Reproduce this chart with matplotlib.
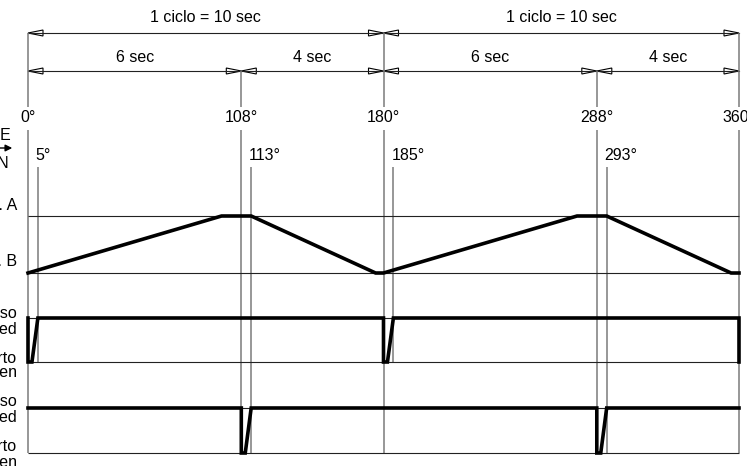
import matplotlib.pyplot as plt
from matplotlib.patches import Polygon

plt.rcParams["font.family"] = ["Liberation Sans", "DejaVu Sans"]

# angles of the cycle (degrees) and the short valve delays
main_angles = [0, 108, 180, 288, 360]
delay_angles = [5, 113, 185, 293]
cycle_label = "1 ciclo = 10 sec"
phase_labels = ["6 sec", "4 sec", "6 sec", "4 sec"]

# slide position (1 = pos. A, 0 = pos. B)
pos_deg = [0, 98, 113, 176, 180, 278, 293, 356, 360]
pos_state = [0, 1, 1, 0, 0, 1, 1, 0, 0]

# valve 1 (1 = chiuso / closed, 0 = aperto / open)
v1_deg = [0, 0, 2, 5, 180, 180, 182, 185, 360, 360]
v1_state = [1, 0, 0, 1, 1, 0, 0, 1, 1, 0]

# valve 2
v2_deg = [0, 108, 108, 110, 113, 288, 288, 290, 293, 360]
v2_state = [1, 1, 0, 0, 1, 1, 0, 0, 1, 1]

left_labels = ["DIREZIONE", "DIRECTION", "Pos. A", "Pos. B",
               "Chiuso", "Closed", "Aperto", "Open",
               "Chiuso", "Closed", "Aperto", "Open"]

# ---------------------------------------------------------------- layout --- #
PX = 1.975          # pixels per degree
W, H = 747, 466


def px(n):
    """ pixel length -> degrees """
    return n / PX


def xpix(n):
    """ pixel x position -> degrees """
    return (n - 28) / PX


FS = 11.5
thin = dict(color="#222222", lw=0.8)
grey = dict(color="#7a7a7a", lw=1.1)

f = plt.figure(figsize=(W / 100, H / 100), dpi=100)
ax = f.add_axes([0, 0, 1, 1])
ax.set_xlim(xpix(0), xpix(W))
ax.set_ylim(H, 0)
ax.axis("off")

# row levels (pixel y)
pos_lv = (273, 216)
v1_lv = (362, 318)
v2_lv = (453, 408)


def level(states, lv):
    return [lv[0] + s * (lv[1] - lv[0]) for s in states]


# ------------------------------------------------------- dimension lines --- #
def head(x, y, direction):
    L = px(15) * direction
    ax.add_patch(Polygon([(x, y), (x - L, y - 3), (x - L, y + 3)],
                         closed=True, fill=False, ec="k", lw=0.8))


def dim(a, b, y, label, ty):
    ax.plot([a, b], [y, y], **thin)
    head(a, y, -1)
    head(b, y, 1)
    ax.text((a + b) / 2, ty, label, ha="center", va="center", fontsize=FS)


bounds = main_angles[::2]
for a, b in zip(bounds[:-1], bounds[1:]):
    dim(a, b, 33, cycle_label, 18)
for (a, b), lab in zip(zip(main_angles[:-1], main_angles[1:]), phase_labels):
    dim(a, b, 71, lab, 57)

# -------------------------------------------------------- vertical lines --- #
for a in main_angles:
    top = 33 if a in bounds else 71
    ax.vlines(a, top, 107, **grey)
    ax.vlines(a, 130, 453, **grey)
    ax.text(a, 118, f"{a}°", ha="center", va="center", fontsize=FS)

for i, a in enumerate(delay_angles):
    bottom = 363 if i % 2 == 0 else 453
    ax.vlines(a, 167, bottom, **grey)
    ax.text(a - px(2), 155, f"{a}°", ha="left", va="center", fontsize=FS)

# ----------------------------------------------------------- level lines --- #
for lv in (pos_lv, v1_lv, v2_lv):
    for y in lv:
        ax.hlines(y, 0, 360, **thin)

# ------------------------------------------------------------- signals --- #
sig = dict(color="k", lw=2.6, solid_joinstyle="miter")
ax.plot(pos_deg, level(pos_state, pos_lv), **sig)
ax.plot(v1_deg, level(v1_state, v1_lv), **sig)
ax.plot(v2_deg, level(v2_state, v2_lv), **sig)

# ------------------------------------------------------------ left text --- #
label_y = [135, 163, 205, 262, 313, 329, 358, 373, 402, 418, 447, 462]
label_x = [12, 9] + [17] * 10
for lab, x, y in zip(left_labels, label_x, label_y):
    ax.text(xpix(x), y, lab, ha="right", va="center", fontsize=FS)

ax.annotate("", xy=(xpix(15), 148), xytext=(xpix(-12), 148),
            arrowprops=dict(arrowstyle="-|>", lw=1, color="k",
                            mutation_scale=10))

f.savefig("out.png", dpi=100)
